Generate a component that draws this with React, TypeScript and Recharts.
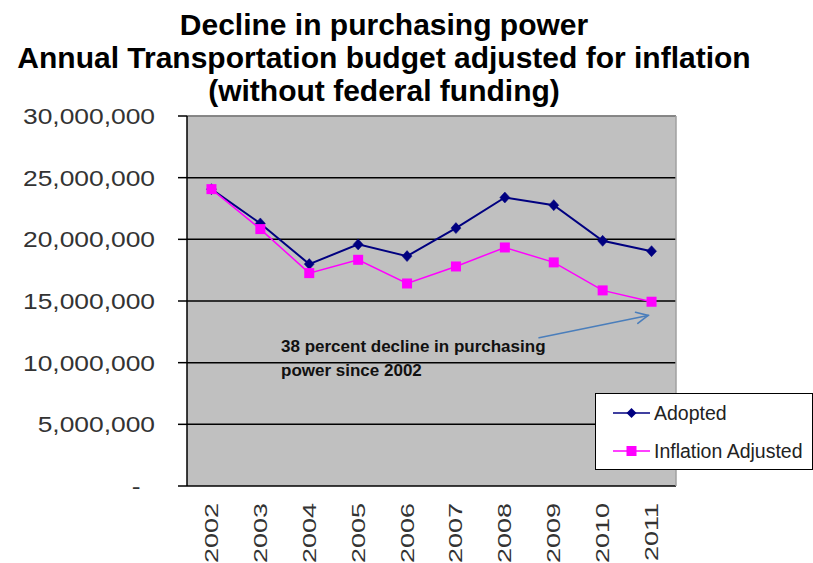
import React from 'react';
import {
  LineChart, Line, XAxis, YAxis, CartesianGrid, ReferenceLine, Legend,
} from 'recharts';

const years = ['2002', '2003', '2004', '2005', '2006', '2007', '2008', '2009', '2010', '2011'];
const adopted = [24070000, 21290000, 17990000, 19590000, 18640000, 20910000, 23390000, 22770000, 19880000, 19040000];
const inflationAdjusted = [24070000, 20830000, 17260000, 18340000, 16420000, 17800000, 19340000, 18130000, 15860000, 14940000];
const yTicks = [0, 5000000, 10000000, 15000000, 20000000, 25000000, 30000000];
const titleLines = [
  'Decline in purchasing power',
  'Annual Transportation budget adjusted for inflation',
  '(without federal funding)',
];
const annotationLines = ['38 percent decline in purchasing', 'power since 2002'];
// arrow annotation endpoints in data units (x = category position, y = value)
const arrowFrom = { x: 7.2, y: 12020000 };
const arrowTo = { x: 9.43, y: 13830000 };

const data = years.map((year, i) => ({
  x: i + 0.5,
  year,
  adopted: adopted[i],
  inflation: inflationAdjusted[i],
}));
const boundaryTicks = years.map((_, i) => i).concat(years.length);
const centerTicks = data.map((d) => d.x);

const FONT = '"Liberation Sans", Arial, sans-serif';

const DiamondDot = (props: any) => {
  const { cx, cy } = props;
  if (cx == null || cy == null) return <g />;
  return (
    <polygon
      points={`${cx},${cy - 5.5} ${cx + 5},${cy} ${cx},${cy + 5.5} ${cx - 5},${cy}`}
      fill="#000080"
      stroke="#000080"
      strokeWidth={0.5}
    />
  );
};

const SquareDot = (props: any) => {
  const { cx, cy } = props;
  if (cx == null || cy == null) return <g />;
  return <rect x={cx - 5} y={cy - 5} width={10} height={10} fill="#ff00ff" />;
};

const YTick = (props: any) => {
  const { x, y, payload } = props;
  const v = payload.value as number;
  const label = v === 0 ? '-' : v.toLocaleString('en-US');
  return (
    <g transform={`translate(${x},${y})`}>
      <text
        transform="scale(1.2,1)"
        textAnchor="end"
        dy="0.36em"
        dx={v === 0 ? -12 : 0}
        fontSize={22}
        fontFamily={FONT}
        fill="#333"
      >
        {label}
      </text>
    </g>
  );
};

const XLabelTick = (props: any) => {
  const { x, y, payload } = props;
  const idx = Math.floor(payload.value);
  return (
    <text
      transform={`translate(${x},${y}) rotate(-90) scale(1.5,1)`}
      textAnchor="end"
      dy="0.36em"
      fontSize={18}
      fontFamily={FONT}
      fill="#333"
    >
      {years[idx]}
    </text>
  );
};

const ArrowShape = (props: any) => {
  const { x1, y1, x2, y2 } = props;
  if ([x1, y1, x2, y2].some((v) => v == null || isNaN(v))) return <g />;
  const ang = Math.atan2(y2 - y1, x2 - x1);
  const len = 13;
  const spread = 0.45;
  const ax = x2 - len * Math.cos(ang - spread);
  const ay = y2 - len * Math.sin(ang - spread);
  const bx = x2 - len * Math.cos(ang + spread);
  const by = y2 - len * Math.sin(ang + spread);
  return (
    <g stroke="#4a7ebb" strokeWidth={1.6} fill="none" strokeLinecap="round">
      <line x1={x1} y1={y1} x2={x2} y2={y2} />
      <polyline points={`${ax},${ay} ${x2},${y2} ${bx},${by}`} />
    </g>
  );
};

const LegendContent = () => (
  <div
    style={{
      width: 218,
      height: 77,
      boxSizing: 'border-box',
      border: '1px solid #000',
      background: '#fff',
    }}
  >
    <svg width={216} height={75} style={{ display: 'block' }}>
      <line x1={17} y1={19} x2={54} y2={19} stroke="#000080" strokeWidth={1.5} />
      <polygon points="35.5,14 40.5,19 35.5,24 30.5,19" fill="#000080" />
      <text x={58} y={26} fontSize={19.5} fontFamily={FONT} fill="#222">Adopted</text>
      <line x1={17} y1={57} x2={54} y2={57} stroke="#ff00ff" strokeWidth={1.5} />
      <rect x={30.5} y={52} width={10} height={10} fill="#ff00ff" />
      <text x={58} y={64} fontSize={19.5} fontFamily={FONT} fill="#222">Inflation Adjusted</text>
    </svg>
  </div>
);

export default function App() {
  return (
    <div style={{ position: 'absolute', left: 0, top: 0, width: 813, height: 563, background: '#fff' }}>
      <LineChart
        width={813}
        height={563}
        data={data}
        margin={{ top: 116, right: 137, bottom: 0, left: 0 }}
      >
        <CartesianGrid vertical={false} stroke="#000" strokeWidth={1.5} fill="#c0c0c0" fillOpacity={1} />
        <XAxis
          xAxisId="b"
          type="number"
          dataKey="x"
          domain={[0, years.length]}
          ticks={boundaryTicks}
          interval={0}
          tick={false}
          tickSize={8}
          height={0}
          axisLine={{ stroke: '#000', strokeWidth: 1.5 }}
          tickLine={{ stroke: '#000', strokeWidth: 1.5 }}
        />
        <XAxis
          xAxisId="lbl"
          type="number"
          dataKey="x"
          domain={[0, years.length]}
          ticks={centerTicks}
          interval={0}
          tick={<XLabelTick />}
          tickSize={0}
          tickMargin={17}
          tickLine={false}
          axisLine={false}
          height={77}
        />
        <YAxis
          type="number"
          domain={[0, 30000000]}
          ticks={yTicks}
          interval={0}
          width={187}
          tickSize={9}
          tickMargin={23}
          tick={<YTick />}
          axisLine={{ stroke: '#000', strokeWidth: 1.5 }}
          tickLine={{ stroke: '#000', strokeWidth: 1.5 }}
        />
        <ReferenceLine xAxisId="b" y={30000000} stroke="#a0a0a0" strokeWidth={1.5} />
        <ReferenceLine xAxisId="b" x={years.length} stroke="#a0a0a0" strokeWidth={1.5} />
        <ReferenceLine
          xAxisId="b"
          segment={[arrowFrom, arrowTo]}
          shape={<ArrowShape />}
        />
        <Line
          xAxisId="b"
          type="linear"
          dataKey="adopted"
          name="Adopted"
          stroke="#000080"
          strokeWidth={2}
          dot={<DiamondDot />}
          activeDot={false}
          isAnimationActive={false}
        />
        <Line
          xAxisId="b"
          type="linear"
          dataKey="inflation"
          name="Inflation Adjusted"
          stroke="#ff00ff"
          strokeWidth={1.5}
          dot={<SquareDot />}
          activeDot={false}
          isAnimationActive={false}
        />
        <Legend
          layout="horizontal"
          verticalAlign="middle"
          align="center"
          content={<LegendContent />}
          wrapperStyle={{ position: 'absolute', left: 595, top: 393, width: 218, height: 77, bottom: 'auto', right: 'auto' }}
        />
      </LineChart>
      <div
        style={{
          position: 'absolute',
          left: 0,
          top: 8,
          width: 768,
          textAlign: 'center',
          fontFamily: FONT,
          fontWeight: 'bold',
          fontSize: 30,
          lineHeight: '33px',
          color: '#000',
          whiteSpace: 'nowrap',
        }}
      >
        {titleLines.map((t) => (
          <div key={t}>{t}</div>
        ))}
      </div>
      <div
        style={{
          position: 'absolute',
          left: 281,
          top: 335,
          fontFamily: FONT,
          fontWeight: 'bold',
          fontSize: 17,
          lineHeight: '24px',
          color: '#111',
          whiteSpace: 'nowrap',
        }}
      >
        {annotationLines.map((t) => (
          <div key={t}>{t}</div>
        ))}
      </div>
    </div>
  );
}
